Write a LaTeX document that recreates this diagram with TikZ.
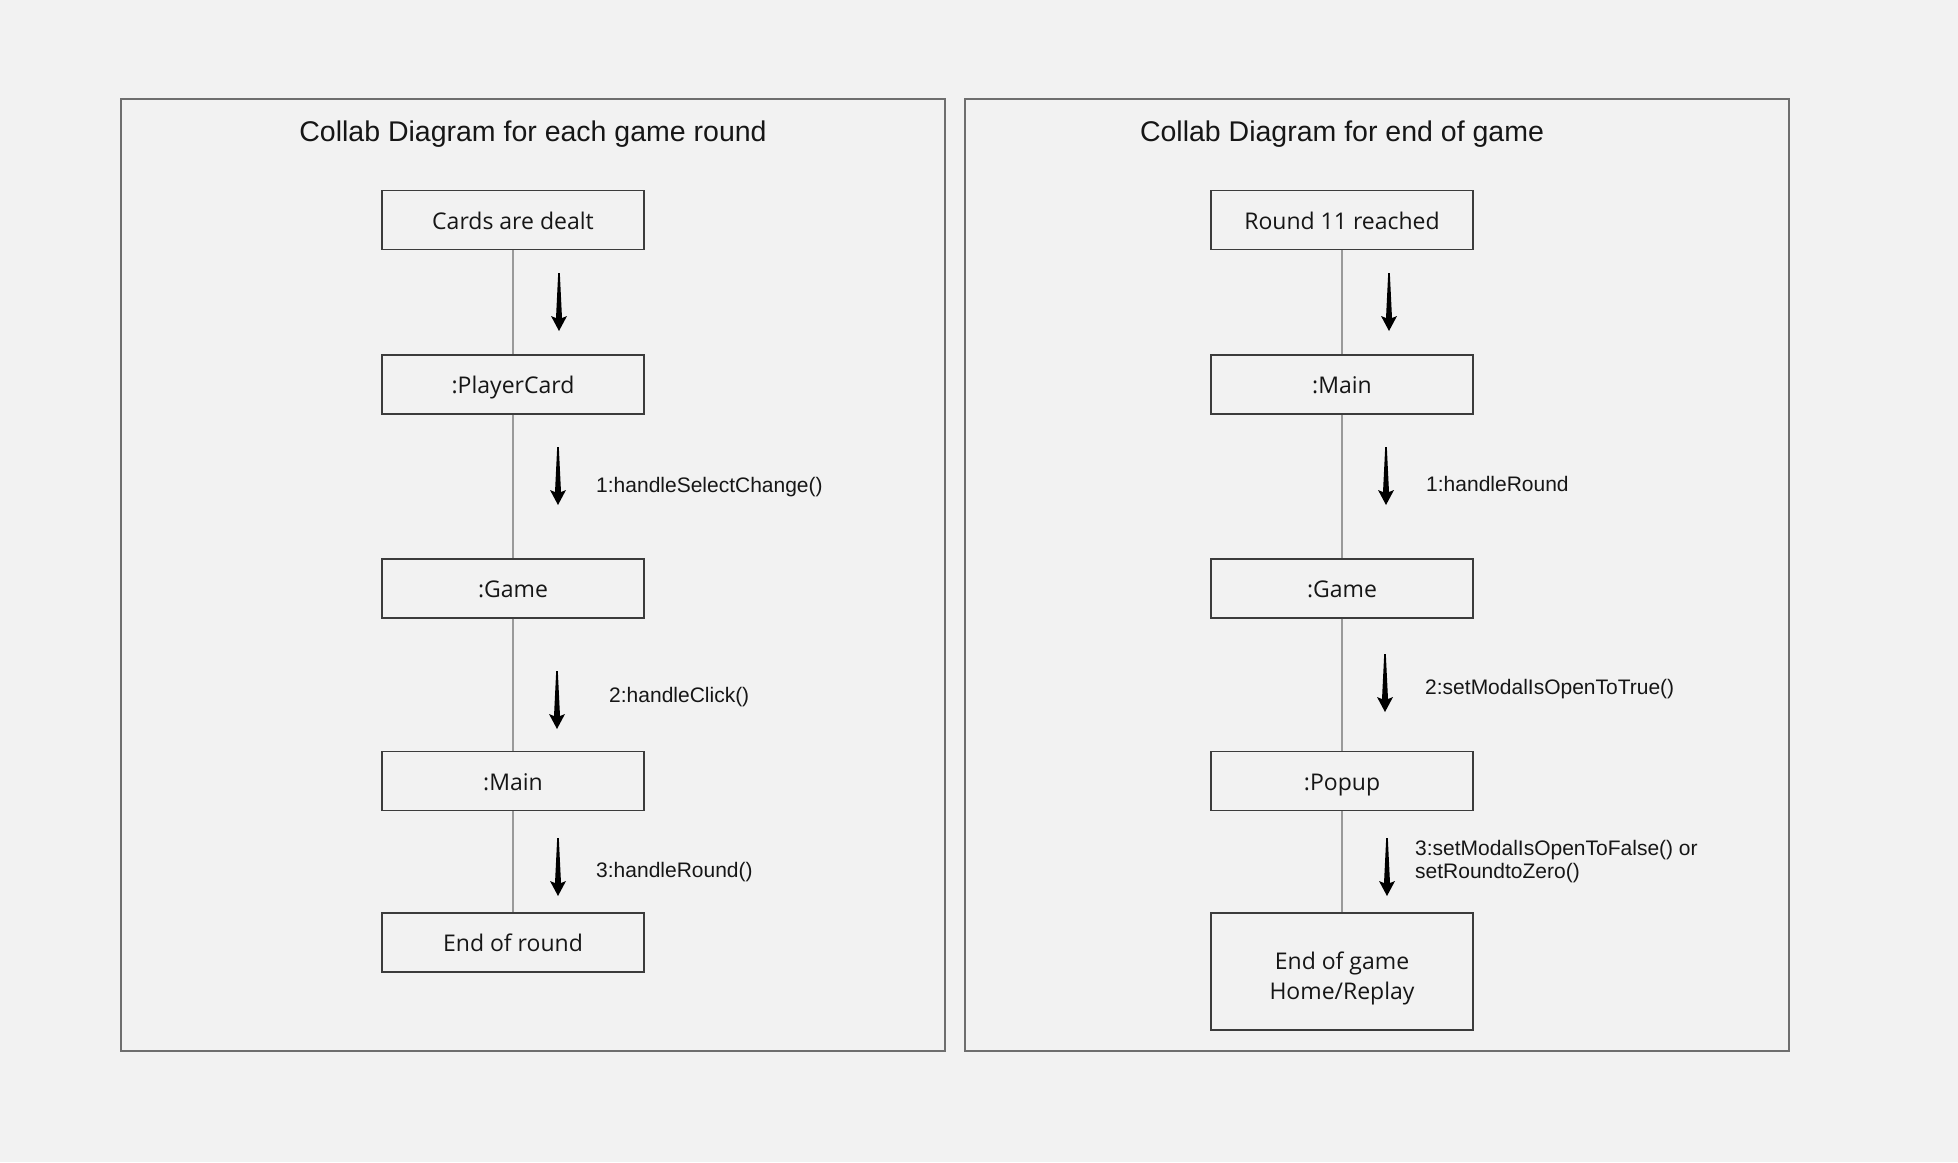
\documentclass[tikz,border=0pt]{standalone}
\usepackage{fontspec}
\setmainfont{Liberation Sans}
\newfontfamily\boxfont{Open Sans}
\usetikzlibrary{positioning}
\definecolor{bg}{HTML}{F2F2F2}
\definecolor{frameline}{HTML}{6E6E6E}
\definecolor{boxline}{HTML}{3C3C3C}
\definecolor{linkgrey}{HTML}{9A9A9A}
\definecolor{ink}{HTML}{161616}
\tikzset{x = 1pt, y = 1pt,
  obj/.style = {draw = boxline, line width = 1.6pt, minimum width = 262pt,
    minimum height = 59pt, inner sep = 0pt, align = center, text = ink,
    text height = 18.6pt, text depth = 0pt,
    font = \boxfont\fontsize{23}{30}\selectfont},
  msgtext/.style = {anchor = base west, inner sep = 0pt, align = left, text = ink,
    font = \fontsize{21}{23}\selectfont},
  heading/.style = {text = ink, font = \fontsize{28.5}{34}\selectfont},
  panel/.style = {draw = frameline, line width = 1.6pt},
  link/.style = {draw = linkgrey, line width = 1.6pt},
  msg/.pic = {\fill [black] (-0.8,0) -- (0.8,0) -- (3,-45) -- (8,-43)
    -- (0,-58) -- (-8,-43) -- (-3,-45) -- cycle;}
}

\begin{document}
\begin{tikzpicture}
  \useasboundingbox [fill = bg] (0,0) rectangle (1958,-1162);
  % frames
  \draw [panel] (121,-99) rectangle (945,-1051);
  \draw [panel] (965,-99) rectangle (1789,-1051);
  \node [heading] (t1) at (533,-134) {Collab Diagram for each game round};
  \node [heading] (t2) at (1342,-134) {Collab Diagram for end of game};
  % each game round
  \node [obj] (dealt) at (513,-220) {Cards are dealt};
  \node [obj, below = 104pt of dealt] (pcard) {:PlayerCard};
  \node [obj, below = 143pt of pcard] (game1) {:Game};
  \node [obj, below = 132pt of game1] (main1) {:Main};
  \node [obj, below = 101pt of main1] (eor) {End of round};
  \draw [link] (dealt) -- (pcard);
  \draw [link] (pcard) -- (game1);
  \draw [link] (game1) -- (main1);
  \draw [link] (main1) -- (eor);
  \pic at (559,-273) {msg};
  \pic at (558,-447) {msg};
  \pic at (557,-671) {msg};
  \pic at (558,-838) {msg};
  \node [msgtext] (l1) at (596,-492) {1:handleSelectChange()};
  \node [msgtext] (l2) at (609,-702) {2:handleClick()};
  \node [msgtext] (l3) at (596,-877) {3:handleRound()};
  % end of game
  \node [obj] (r11) at (1342,-220) {Round 11 reached};
  \node [obj, below = 104pt of r11] (main2) {:Main};
  \node [obj, below = 143pt of main2] (game2) {:Game};
  \node [obj, below = 132pt of game2] (popup) {:Popup};
  \node [obj, minimum height = 117pt, text height = 57pt, text depth = 0pt,
    below = 101pt of popup] (eog) {End of game\\Home/Replay};
  \draw [link] (r11) -- (main2);
  \draw [link] (main2) -- (game2);
  \draw [link] (game2) -- (popup);
  \draw [link] (popup) -- (eog);
  \pic at (1389,-273) {msg};
  \pic at (1386,-447) {msg};
  \pic at (1385,-654) {msg};
  \pic at (1387,-838) {msg};
  \node [msgtext] (r1) at (1426,-491) {1:handleRound};
  \node [msgtext] (r2) at (1425,-694) {2:setModalIsOpenToTrue()};
  \node [msgtext] (r3) at (1415,-878) {3:setModalIsOpenToFalse() or\\setRoundtoZero()};
\end{tikzpicture}
\end{document}
